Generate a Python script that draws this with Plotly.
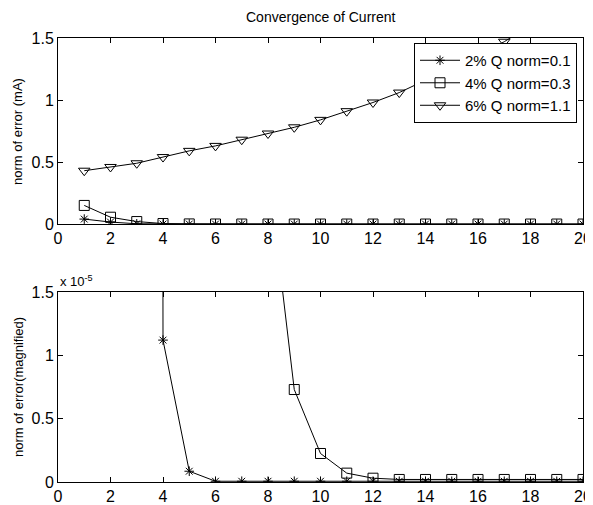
import plotly.graph_objects as go

# ---- data (norm of error, mA) ----
iterations = list(range(1, 21))
q2_norm = [0.04, 0.016, 0.002, 1.12e-5, 0.085e-5] + [0.006e-5] * 15
q4_norm = [0.15, 0.055, 0.02, 0.004, 0.001, 2e-4, 5e-5, 2.48e-5, 0.73e-5,
           0.225e-5, 0.07e-5, 0.03e-5] + [0.02e-5] * 8
q6_norm = [0.43, 0.46, 0.49, 0.54, 0.59, 0.63, 0.68, 0.73, 0.78, 0.84,
           0.91, 0.98, 1.06, 1.16, 1.26, 1.36, 1.47, 1.60, 1.73, 1.87]

series_names = ["2% Q norm=0.1", "4% Q norm=0.3", "6% Q norm=1.1"]
series_values = [q2_norm, q4_norm, q6_norm]
series_symbols = ["asterisk-open", "square-open", "triangle-down-open"]
series_sizes = [8, 10, 10]

x_ticks = list(range(0, 21, 2))
top_y_ticks = [0, 0.5, 1, 1.5]
top_y_labels = ["0", "0.5", "1", "1.5"]
bot_y_ticks = [0, 0.5e-5, 1e-5, 1.5e-5]
bot_y_labels = ["0", "0.5", "1", "1.5"]

FONT = "Liberation Sans, Arial, sans-serif"

fig = go.Figure()
for name, vals, sym, sz in zip(series_names, series_values, series_symbols, series_sizes):
    for ax, show in (("", True), ("2", False)):
        fig.add_trace(go.Scatter(
            x=iterations, y=vals, name=name, showlegend=show,
            mode="lines+markers",
            line=dict(color="black", width=1),
            marker=dict(symbol=sym, size=sz, color="black",
                        line=dict(color="black", width=1)),
            xaxis="x" + ax, yaxis="y" + ax,
        ))

axis_common = dict(
    showline=True, linecolor="black", linewidth=1, mirror="ticks",
    ticks="inside", ticklen=5, tickcolor="black", showgrid=False,
    zeroline=False, automargin=False,
    tickfont=dict(family=FONT, size=16, color="black"),
)

# page body has an 8px default margin, so the figure is 8px smaller
fig.update_layout(
    width=585, height=497,
    margin=dict(l=50, r=10, t=30, b=23),
    paper_bgcolor="white", plot_bgcolor="white",
    font=dict(family=FONT, color="black"),
    xaxis=dict(domain=[0, 1], anchor="y", range=[0, 20], tickvals=x_ticks, **axis_common),
    yaxis=dict(domain=[0.581, 1], anchor="x", range=[0, 1.5],
               tickvals=top_y_ticks, ticktext=top_y_labels, **axis_common),
    xaxis2=dict(domain=[0, 1], anchor="y2", range=[0, 20], tickvals=x_ticks, **axis_common),
    yaxis2=dict(domain=[0, 0.428], anchor="x2", range=[0, 1.5e-5],
                tickvals=bot_y_ticks, ticktext=bot_y_labels, **axis_common),
    legend=dict(x=0.9886, xanchor="right", y=0.9887, yanchor="top",
                bgcolor="white", bordercolor="black", borderwidth=1,
                font=dict(family=FONT, size=15, color="black"),
                itemwidth=40, tracegroupgap=0),
    showlegend=True,
)

fig.add_annotation(text="Convergence of Current", xref="paper", yref="paper",
                   x=0.5, y=(482 - 17) / 444, xanchor="center", yanchor="middle",
                   showarrow=False, font=dict(family=FONT, size=14, color="black"))
fig.add_annotation(text="norm of error (mA)", xref="paper", yref="paper",
                   x=(18 - 58) / 525, y=(482 - 131) / 444, textangle=-90,
                   xanchor="center", yanchor="middle",
                   showarrow=False, font=dict(family=FONT, size=13, color="black"))
fig.add_annotation(text="norm of error(magnified)", xref="paper", yref="paper",
                   x=(18 - 58) / 525, y=(482 - 387) / 444, textangle=-90,
                   xanchor="center", yanchor="middle",
                   showarrow=False, font=dict(family=FONT, size=13, color="black"))
fig.add_annotation(text="x 10<sup>-5</sup>", xref="paper", yref="paper",
                   x=0.0, xanchor="left", y=(482 - 281) / 444, yanchor="middle",
                   showarrow=False, font=dict(family=FONT, size=13, color="black"))

fig.write_html("out.html")
